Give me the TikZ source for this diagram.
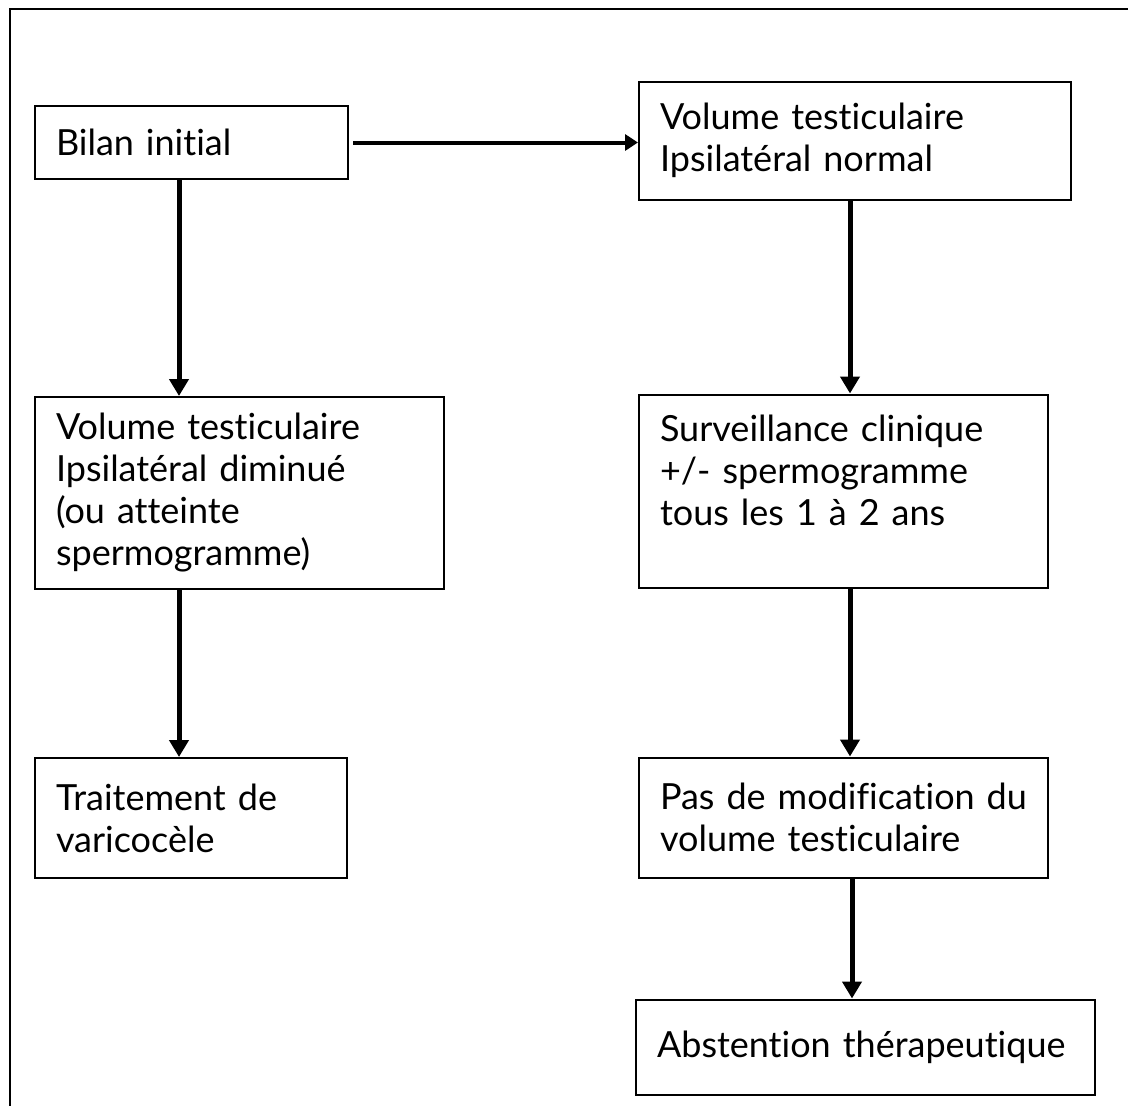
\documentclass[tikz,border=0pt]{standalone}
\usepackage{fontspec}
\setmainfont{Lato}[Ligatures = NoCommon]
\usetikzlibrary{positioning,arrows.meta}

\begin{document}
\begin{tikzpicture}[x = 1pt, y = -1pt]
     \tikzset{boite/.style   =   {draw,
                                  line width   = 2pt,
                                  rectangle,
                                  anchor       = north west,
                                  inner xsep   = 21pt,
                                  inner ysep   = 0pt,
                                  align        = left,
                                  font         = \fontsize{36}{42}\selectfont},
              fleche/.style  =   {line width   = 5pt,
                                  -{Triangle[width=19pt,length=17pt]}}}
     \useasboundingbox (0,0) rectangle (1128,1106);
     \draw[line width = 2pt] (1128,9) -- (10,9) -- (10,1106);% cadre
     \node[boite, text width = 271pt, minimum height = 73pt] (bilan) at (34,105) {Bilan initial};
     \node[boite, text width = 390pt, minimum height = 118pt, right = 289pt of bilan, yshift = 2pt] (normal)
          {Volume testiculaire\\Ipsilatéral normal};
     \node[boite, text width = 367pt, minimum height = 192pt, below = 216pt of bilan.south west, anchor = north west] (diminue)
          {Volume testiculaire\\Ipsilatéral diminué\\(ou atteinte\\spermogramme)};
     \node[boite, text width = 270pt, minimum height = 120pt, below = 167pt of diminue.south west, anchor = north west] (traitement)
          {Traitement de\\varicocèle};
     \node[boite, text width = 367pt, minimum height = 193pt, below = 193pt of normal.south west, anchor = north west] (surveillance)
          {Surveillance clinique\\+/- spermogramme\\tous les 1 à 2 ans\\\mbox{}};
     \node[boite, text width = 367pt, minimum height = 120pt, below = 168pt of surveillance.south west, anchor = north west] (pasmodif)
          {\mbox{Pas de modification du}\\volume testiculaire};
     \node[boite, text width = 417pt, minimum height = 95pt, below = 120pt of pasmodif.south west, anchor = north west, xshift = -3pt] (abstention)
          {Abstention thérapeutique};
     \draw[fleche, line width = 4pt, -{Triangle[width=16pt,length=13pt]}, shorten <= 4pt] (bilan) -- (bilan -| normal.west);
     \draw[fleche] ([xshift=145pt]bilan.south west) -- ([xshift=145pt]diminue.north west);
     \draw[fleche] ([xshift=145pt]diminue.south west) -- ([xshift=145pt]traitement.north west);
     \draw[fleche] ([xshift=212pt]normal.south west) -- ([xshift=212pt]surveillance.north west);
     \draw[fleche] ([xshift=212pt]surveillance.south west) -- ([xshift=212pt]pasmodif.north west);
     \draw[fleche] ([xshift=214pt]pasmodif.south west) -- ([xshift=217pt]abstention.north west);
\end{tikzpicture}
\end{document}
